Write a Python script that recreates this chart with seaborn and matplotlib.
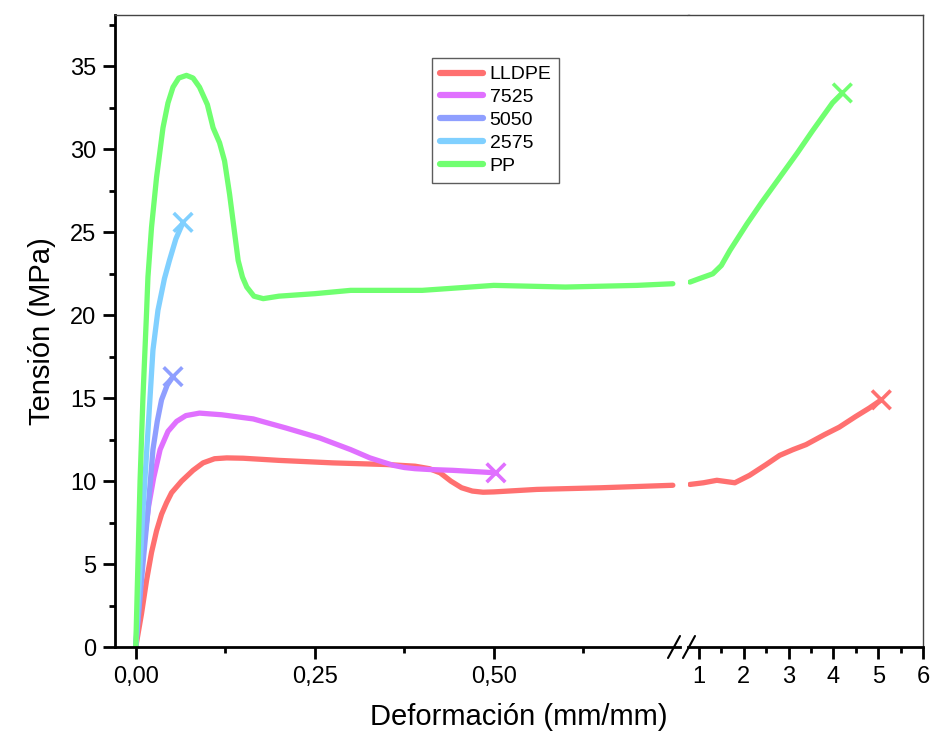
import numpy as np
import pandas as pd
import matplotlib
matplotlib.use("Agg")
import matplotlib.pyplot as plt
from matplotlib.lines import Line2D
import seaborn as sns

# datos (deformacion mm/mm, tension MPa)
lldpe_x = [0, 0.004, 0.008, 0.015, 0.022, 0.029, 0.036, 0.043, 0.05, 0.064, 0.08, 0.094,
           0.11, 0.127, 0.15, 0.2, 0.275, 0.35, 0.39, 0.41, 0.425, 0.44, 0.455, 0.47,
           0.485, 0.5, 0.56, 0.65, 0.75]
lldpe_y = [0, 1.0, 2.0, 4.0, 5.7, 7.0, 8.0, 8.7, 9.3, 10.0, 10.65, 11.1,
           11.35, 11.4, 11.38, 11.25, 11.1, 11.0, 10.9, 10.75, 10.5, 10.0, 9.6, 9.4,
           9.33, 9.35, 9.5, 9.6, 9.75]
lldpe_x2 = [0.8, 1.1, 1.4, 1.8, 2.13, 2.5, 2.8, 3.1, 3.39, 3.8, 4.13, 4.5, 4.8, 5.07]
lldpe_y2 = [9.8, 9.9, 10.05, 9.9, 10.35, 11.0, 11.55, 11.9, 12.2, 12.8, 13.25, 13.9, 14.4, 14.9]

m7525_x = [0, 0.005, 0.012, 0.018, 0.025, 0.034, 0.045, 0.057, 0.07, 0.089, 0.12, 0.164,
           0.21, 0.257, 0.3, 0.327, 0.345, 0.36, 0.375, 0.39, 0.41, 0.443, 0.503]
m7525_y = [0, 3.0, 6.5, 8.5, 10.2, 11.9, 13.0, 13.6, 13.95, 14.1, 14.0, 13.75,
           13.2, 12.6, 11.9, 11.4, 11.15, 10.95, 10.82, 10.75, 10.7, 10.65, 10.5]

m5050_x = [0, 0.005, 0.01, 0.017, 0.024, 0.03, 0.036, 0.044, 0.052]
m5050_y = [0, 2.5, 5.0, 8.2, 11.9, 13.6, 14.9, 15.8, 16.3]

m2575_x = [0, 0.005, 0.01, 0.017, 0.024, 0.031, 0.04, 0.047, 0.056, 0.066]
m2575_y = [0, 4.0, 8.2, 13.0, 17.9, 20.3, 22.2, 23.3, 24.6, 25.6]

pp_x = [0, 0.003, 0.006, 0.01, 0.015, 0.017, 0.022, 0.029, 0.038, 0.045, 0.052, 0.06,
        0.0708, 0.08, 0.089, 0.1, 0.108, 0.117, 0.124, 0.131, 0.137, 0.143, 0.149,
        0.155, 0.165, 0.178, 0.2, 0.25, 0.3, 0.4, 0.5, 0.6, 0.7, 0.75]
pp_y = [0, 5.0, 10.0, 15.0, 20.1, 22.3, 25.3, 28.3, 31.3, 32.8, 33.75, 34.3,
        34.46, 34.3, 33.75, 32.7, 31.3, 30.4, 29.3, 27.3, 25.3, 23.3, 22.3,
        21.7, 21.15, 21.0, 21.15, 21.3, 21.5, 21.5, 21.8, 21.7, 21.8, 21.9]
pp_x2 = [0.8, 1.0, 1.31, 1.5, 1.69, 2.07, 2.4, 2.8, 3.2, 3.53, 3.98, 4.2]
pp_y2 = [22.0, 22.2, 22.5, 23.0, 23.9, 25.5, 26.8, 28.3, 29.8, 31.1, 32.8, 33.4]

nombres = ["LLDPE", "7525", "5050", "2575", "PP"]
colores = ["#ff7070", "#e070ff", "#8f9fff", "#80d0ff", "#70ff70"]

izq = pd.concat([
    pd.DataFrame({"x": lldpe_x, "y": lldpe_y, "serie": "LLDPE"}),
    pd.DataFrame({"x": m7525_x, "y": m7525_y, "serie": "7525"}),
    pd.DataFrame({"x": m5050_x, "y": m5050_y, "serie": "5050"}),
    pd.DataFrame({"x": m2575_x, "y": m2575_y, "serie": "2575"}),
    pd.DataFrame({"x": pp_x, "y": pp_y, "serie": "PP"}),
])
der = pd.concat([
    pd.DataFrame({"x": lldpe_x2, "y": lldpe_y2, "serie": "LLDPE"}),
    pd.DataFrame({"x": pp_x2, "y": pp_y2, "serie": "PP"}),
])

sns.set_style("ticks", {"axes.edgecolor": "black", "text.color": "black",
                        "xtick.color": "black", "ytick.color": "black",
                        "axes.labelcolor": "black"})
plt.rcParams["font.family"] = ["Liberation Sans", "DejaVu Sans"]

W, H = 933, 733
fig = plt.figure(figsize=(W / 100, H / 100), dpi=100)
ax1 = fig.add_axes([115 / W, 86 / H, (680 - 115) / W, (647 - 15) / H])
ax2 = fig.add_axes([688 / W, 86 / H, (923 - 688) / W, (647 - 15) / H])

paleta = dict(zip(nombres, colores))
sns.lineplot(data=izq, x="x", y="y", hue="serie", hue_order=nombres, palette=paleta,
             sort=False, estimator=None, lw=3.8, ax=ax1)
sns.lineplot(data=der, x="x", y="y", hue="serie", hue_order=["LLDPE", "PP"], palette=paleta,
             sort=False, estimator=None, lw=3.8, ax=ax2, legend=False)

# marcas de rotura (x)
fin_izq = izq.groupby("serie", sort=False).tail(1)
fin_izq = fin_izq[fin_izq["serie"].isin(["7525", "5050", "2575"])]
fin_der = der.groupby("serie", sort=False).tail(1)
sns.scatterplot(data=fin_izq, x="x", y="y", hue="serie", palette=paleta, marker="x",
                s=180, linewidth=2.6, ax=ax1, legend=False, zorder=5)
sns.scatterplot(data=fin_der, x="x", y="y", hue="serie", palette=paleta, marker="x",
                s=180, linewidth=2.6, ax=ax2, legend=False, zorder=5)

for ax in (ax1, ax2):
    ax.set_ylim(0, 38.1)
    ax.set_xlabel("")
    ax.set_ylabel("")
    ax.spines["top"].set_visible(True)
    ax.spines["top"].set_linewidth(1.0)
    ax.spines["top"].set_color("#444444")
    ax.spines["bottom"].set_linewidth(2.0)
    ax.tick_params(axis="x", which="major", direction="out", length=8.5, width=2,
                   labelsize=17, pad=5)
    ax.tick_params(axis="x", which="minor", direction="out", length=4.5, width=2)

ax1.set_xlim(-0.029, 0.76)
ax1.set_xticks([0, 0.25, 0.5])
ax1.set_xticklabels(["0,00", "0,25", "0,50"])
ax1.set_xticks([0.125, 0.375, 0.625], minor=True)
ax1.spines["right"].set_visible(False)
ax1.spines["left"].set_linewidth(2.0)
ax1.spines["top"].set_bounds(-0.029, 0.772)
ax1.set_yticks(np.arange(0, 36, 5))
ax1.set_yticks(np.arange(2.5, 38, 5), minor=True)
ax1.tick_params(axis="y", which="major", direction="out", length=8.5, width=2,
                labelsize=17, pad=5)
ax1.tick_params(axis="y", which="minor", direction="out", length=4.5, width=2)
ax1.set_ylabel("Tensión (MPa)", fontsize=21, labelpad=10)

ax2.set_xlim(0.756, 6)
ax2.set_xticks([1, 2, 3, 4, 5, 6])
ax2.set_xticks([1.5, 2.5, 3.5, 4.5, 5.5], minor=True)
ax2.spines["left"].set_visible(False)
ax2.spines["right"].set_visible(True)
ax2.spines["right"].set_linewidth(1.0)
ax2.spines["right"].set_color("#444444")
ax2.set_yticks([])

leg = ax1.legend(loc="upper left", bbox_to_anchor=(0.561, 0.932), borderaxespad=0,
                 fontsize=14, handlelength=2.2, frameon=True, fancybox=False,
                 edgecolor="#333333", labelspacing=0.27, borderpad=0.4,
                 handletextpad=0.36)
leg.get_frame().set_linewidth(1.0)
for h in leg.get_lines():
    h.set_linewidth(4.5)

# simbolo de eje cortado
for x0 in (668, 683):
    fig.add_artist(Line2D([x0 / W, (x0 + 12) / W], [1 - 658 / H, 1 - 636 / H],
                          color="black", lw=1.5))

fig.text(519 / W, 1 - 717 / H, "Deformación (mm/mm)", ha="center", va="center", fontsize=21)

fig.savefig("out.png", dpi=100)
